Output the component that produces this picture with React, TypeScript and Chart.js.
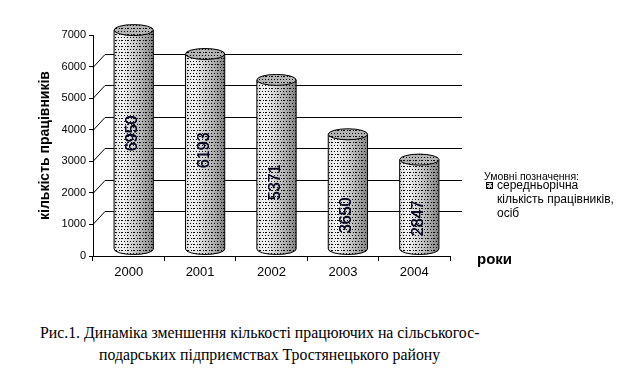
import React, { useEffect, useRef } from "react";
import { Chart, registerables } from "chart.js";

Chart.register(...registerables);

const years: string[] = ["2000", "2001", "2002", "2003", "2004"];
const workers: number[] = [6950, 6193, 5371, 3650, 2847];
// where (in axis units, measured on the cylinder) each rotated value label is centred
const labelAnchors: number[] = [3674, 3136, 2122, 1077, 982];
const gridValues: number[] = [1000, 2000, 3000, 4000, 5000, 6000];
const yMax = 7000;
const yStep = 1000;
const yTitle = "кількість працівників";
const xTitle = "роки";
const legendHeader = "Умовні позначення:";
const legendLines: string[] = ["середньорічна", "кількість працівників,", "осіб"];
const captionLines: string[] = [
  "Рис.1. Динаміка зменшення кількості працюючих на сільськогос-",
  "подарських підприємствах Тростянецького району",
];

const SANS = "'Liberation Sans', Arial, sans-serif";
const SERIF = "'Liberation Serif', 'Times New Roman', serif";

// 3D depth
const DEPTH_DX = 12;
const DEPTH_DY = -13;

function makeDotPattern(ctx: CanvasRenderingContext2D): CanvasPattern | null {
  const c = document.createElement("canvas");
  c.width = 6;
  c.height = 6;
  const g = c.getContext("2d")!;
  g.fillStyle = "#000";
  g.fillRect(1, 1, 1, 1);
  g.fillRect(4, 1, 1, 1);
  g.fillRect(2.5 | 0, 4, 1, 1);
  g.fillRect(5, 4, 1, 1);
  g.fillRect(1, 4, 1, 1);
  return ctx.createPattern(c, "repeat");
}

function drawCylinder(
  ctx: CanvasRenderingContext2D,
  cx: number,
  topY: number,
  botY: number,
  rx: number,
  ry: number,
  pattern: CanvasPattern | null
) {
  ctx.save();
  ctx.beginPath();
  ctx.moveTo(cx - rx, topY);
  ctx.lineTo(cx - rx, botY);
  ctx.ellipse(cx, botY, rx, ry, 0, Math.PI, 0, true);
  ctx.lineTo(cx + rx, topY);
  ctx.closePath();
  const grad = ctx.createLinearGradient(cx - rx, 0, cx + rx, 0);
  grad.addColorStop(0, "#dcdcdc");
  grad.addColorStop(0.2, "#f4f4f4");
  grad.addColorStop(0.55, "#c8c8c8");
  grad.addColorStop(0.85, "#9c9c9c");
  grad.addColorStop(1, "#808080");
  ctx.fillStyle = grad;
  ctx.fill();
  if (pattern) {
    ctx.fillStyle = pattern;
    ctx.fill();
  }
  ctx.beginPath();
  ctx.moveTo(cx - rx, topY);
  ctx.lineTo(cx - rx, botY);
  ctx.ellipse(cx, botY, rx, ry, 0, Math.PI, 0, true);
  ctx.lineTo(cx + rx, topY);
  ctx.strokeStyle = "#000";
  ctx.lineWidth = 1;
  ctx.stroke();

  ctx.beginPath();
  ctx.ellipse(cx, topY, rx, ry, 0, 0, Math.PI * 2);
  ctx.fillStyle = "#b4b4b4";
  ctx.fill();
  if (pattern) {
    ctx.fillStyle = pattern;
    ctx.fill();
  }
  ctx.strokeStyle = "#000";
  ctx.stroke();
  ctx.restore();
}

const pseudo3D = {
  id: "pseudo3D",
  beforeDatasetsDraw(chart: any) {
    const ctx: CanvasRenderingContext2D = chart.ctx;
    const y = chart.scales.y;
    const area = chart.chartArea;
    ctx.save();
    ctx.strokeStyle = "#000";
    ctx.lineWidth = 1;
    for (const v of gridValues) {
      const py = Math.round(y.getPixelForValue(v)) + 0.5;
      ctx.beginPath();
      ctx.moveTo(area.left, py);
      ctx.lineTo(area.left + DEPTH_DX, py + DEPTH_DY);
      ctx.lineTo(area.right + DEPTH_DX, py + DEPTH_DY);
      ctx.stroke();
    }
    ctx.restore();
  },
  afterDatasetsDraw(chart: any) {
    const ctx: CanvasRenderingContext2D = chart.ctx;
    const y = chart.scales.y;
    const meta = chart.getDatasetMeta(0);
    const pattern = makeDotPattern(ctx);
    const hx = DEPTH_DX / 2 - 1;
    const hy = DEPTH_DY / 2;
    meta.data.forEach((bar: any, i: number) => {
      const cx = bar.x + hx;
      const topY = bar.y + hy;
      const botY = bar.base + hy;
      const rx = bar.width / 2;
      drawCylinder(ctx, cx, topY, botY, rx, 5.5, pattern);
      const ly = y.getPixelForValue(labelAnchors[i]) + hy;
      ctx.save();
      ctx.translate(cx - 1, ly);
      ctx.rotate(-Math.PI / 2);
      ctx.font = `16px ${SANS}`;
      ctx.fillStyle = "#0a0a24";
      ctx.textAlign = "center";
      ctx.textBaseline = "middle";
      ctx.fillText(String(workers[i]), 0, 0);
      ctx.fillText(String(workers[i]), 0.4, 0);
      ctx.restore();
    });
  },
  afterDraw(chart: any) {
    const ctx: CanvasRenderingContext2D = chart.ctx;
    const area = chart.chartArea;
    ctx.save();
    ctx.fillStyle = "#000";
    ctx.save();
    ctx.translate(45, (area.top + area.bottom) / 2);
    ctx.rotate(-Math.PI / 2);
    ctx.font = `bold 14px ${SANS}`;
    ctx.textAlign = "center";
    ctx.textBaseline = "middle";
    ctx.fillText(yTitle, 0, 0);
    ctx.restore();
    ctx.font = `bold 15px ${SANS}`;
    ctx.textAlign = "left";
    ctx.textBaseline = "middle";
    ctx.fillText(xTitle, area.right + 27, area.bottom + 4);
    ctx.font = `10.5px ${SANS}`;
    ctx.fillText(legendHeader, 484, 177);
    const pattern = makeDotPattern(ctx);
    ctx.fillStyle = "#d0d0d0";
    ctx.fillRect(486, 182, 7, 7);
    if (pattern) {
      ctx.fillStyle = pattern;
      ctx.fillRect(486, 182, 7, 7);
    }
    ctx.strokeStyle = "#000";
    ctx.lineWidth = 1;
    ctx.strokeRect(486.5, 182.5, 6, 6);
    ctx.fillStyle = "#000";
    ctx.font = `12px ${SANS}`;
    legendLines.forEach((t, i) => {
      ctx.fillText(t, 497, 186 + i * 14);
    });
    ctx.restore();
  },
};

export default function App() {
  const ref = useRef<HTMLCanvasElement | null>(null);
  useEffect(() => {
    if (!ref.current) return;
    const chart = new Chart(ref.current, {
      type: "bar",
      data: {
        labels: years,
        datasets: [
          {
            data: workers,
            backgroundColor: "rgba(0,0,0,0)",
            borderWidth: 0,
            barPercentage: 0.55,
            categoryPercentage: 1,
          },
        ],
      },
      options: {
        responsive: false,
        animation: false,
        events: [],
        layout: { padding: { left: 0, top: 35, right: 181, bottom: 0 } },
        plugins: {
          legend: { display: false },
          tooltip: { enabled: false },
          title: { display: false },
        },
        scales: {
          x: {
            grid: {
              offset: true,
              drawOnChartArea: false,
              drawTicks: true,
              tickLength: 5,
              color: "#000",
            },
            border: { display: true, color: "#000", width: 1 },
            ticks: {
              color: "#000",
              font: { family: SANS, size: 13 },
              padding: 4,
              maxRotation: 0,
            },
            afterFit: (s: any) => {
              s.height = 44;
            },
          },
          y: {
            min: 0,
            max: yMax,
            ticks: {
              stepSize: yStep,
              color: "#000",
              font: { family: SANS, size: 11 },
              padding: 3,
              callback: (v: any) => String(v),
            },
            grid: {
              drawOnChartArea: false,
              drawTicks: true,
              tickLength: 4,
              color: "#000",
            },
            border: { display: true, color: "#000", width: 1 },
            afterFit: (s: any) => {
              s.width = 93;
            },
          },
        },
      },
      plugins: [pseudo3D],
    } as any);
    return () => chart.destroy();
  }, []);

  const capStyle: React.CSSProperties = {
    position: "absolute",
    font: `15.8px ${SERIF}`,
    lineHeight: "20px",
    whiteSpace: "nowrap",
    color: "#000",
  };

  return (
    <div
      style={{
        position: "absolute",
        left: 0,
        top: 0,
        width: 631,
        height: 372,
        background: "#fff",
        overflow: "hidden",
      }}
    >
      <canvas
        ref={ref}
        width={631}
        height={300}
        style={{ position: "absolute", left: 0, top: 0, width: 631, height: 300 }}
      />
      <div style={{ ...capStyle, left: 40, top: 323 }}>{captionLines[0]}</div>
      <div style={{ ...capStyle, left: 99, top: 345 }}>{captionLines[1]}</div>
    </div>
  );
}
